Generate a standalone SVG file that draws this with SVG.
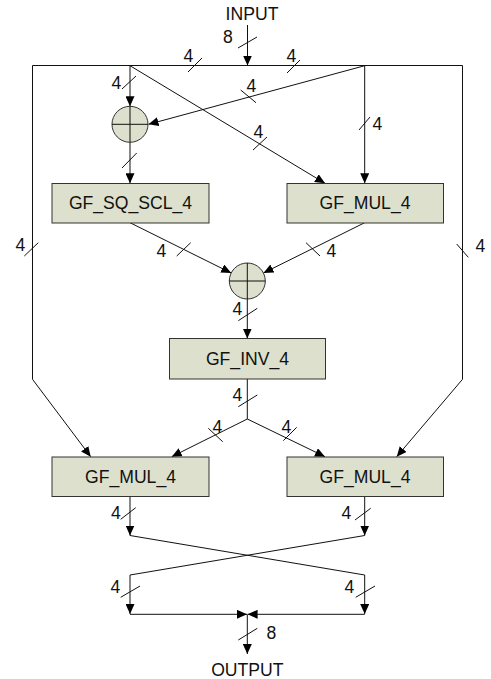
<svg xmlns="http://www.w3.org/2000/svg" width="491" height="679" viewBox="0 0 491 679">
<style>
text{font-family:"Liberation Sans",Arial,sans-serif;font-size:17.6px;fill:#111}
.c{text-anchor:middle}
.box{fill:#dce0cc;stroke:#333;stroke-width:1}
.w{fill:none;stroke:#111;stroke-width:1}
.a{marker-end:url(#ah)}
.s{stroke:#111;stroke-width:1}
</style>
<defs>
<marker id="ah" markerUnits="userSpaceOnUse" markerWidth="10" markerHeight="9" refX="10" refY="4.5" orient="auto">
<path d="M0,0 L10,4.5 L0,9 Z" fill="#000"/>
</marker>
</defs>
<rect width="491" height="679" fill="#fff"/>
<g id="connectors">
<line class="w a" x1="247.5" y1="25" x2="247.5" y2="65.5"/>
<line class="w" x1="32.5" y1="65.5" x2="462.5" y2="65.5"/>
<polyline class="w a" points="32.5,65.5 32.5,379.3 90.7,456.7"/>
<polyline class="w a" points="462.5,65.5 462.5,379.3 396.7,456.7"/>
<line class="w a" x1="130" y1="65.5" x2="130" y2="106.3"/>
<line class="w a" x1="130" y1="65.7" x2="325" y2="183.3"/>
<line class="w a" x1="364.7" y1="65.5" x2="364.7" y2="183.3"/>
<line class="w a" x1="364.7" y1="65.7" x2="148.5" y2="124.3"/>
<line class="w a" x1="130" y1="142.3" x2="130" y2="183.3"/>
<line class="w a" x1="130" y1="222.7" x2="231.2" y2="273"/>
<line class="w a" x1="364.7" y1="222.7" x2="263.4" y2="273"/>
<line class="w a" x1="247.3" y1="299" x2="247.3" y2="338.5"/>
<line class="w" x1="247.3" y1="379" x2="247.3" y2="419"/>
<line class="w a" x1="247.3" y1="419" x2="171.7" y2="456.7"/>
<line class="w a" x1="247.3" y1="419" x2="325" y2="456.7"/>
<line class="w a" x1="130" y1="496.7" x2="130" y2="535.5"/>
<line class="w a" x1="364.7" y1="496.7" x2="364.7" y2="535.5"/>
<polyline class="w a" points="130,535.5 364.7,575 364.7,614"/>
<polyline class="w a" points="364.7,535.5 130,575 130,614"/>
<line class="w a" x1="130" y1="614.3" x2="247" y2="614.3"/>
<line class="w a" x1="364.7" y1="614.3" x2="247.6" y2="614.3"/>
<line class="w a" x1="247.3" y1="614.3" x2="247.3" y2="654"/>
<!-- bus width slashes -->
<line class="s" x1="238" y1="48" x2="257" y2="37"/>
<line class="s" x1="188" y1="72" x2="202" y2="58"/>
<line class="s" x1="287" y1="73" x2="300" y2="60"/>
<line class="s" x1="122" y1="89" x2="136" y2="76"/>
<line class="s" x1="253" y1="150" x2="267" y2="137"/>
<line class="s" x1="359" y1="130" x2="370" y2="117"/>
<line class="s" x1="240.7" y1="90" x2="256" y2="102.7"/>
<line class="s" x1="122" y1="168" x2="136.7" y2="153"/>
<line class="s" x1="176.7" y1="256" x2="190.7" y2="242.7"/>
<line class="s" x1="306" y1="242.7" x2="320" y2="256"/>
<line class="s" x1="24.3" y1="256" x2="38.3" y2="242.7"/>
<line class="s" x1="456.7" y1="244" x2="468.3" y2="257.3"/>
<line class="s" x1="238.3" y1="320.7" x2="257.3" y2="308.3"/>
<line class="s" x1="238.3" y1="406.7" x2="257.3" y2="395"/>
<line class="s" x1="208.3" y1="428.3" x2="222.7" y2="441.7"/>
<line class="s" x1="283.3" y1="440.7" x2="296.7" y2="427.3"/>
<line class="s" x1="120.7" y1="519.3" x2="135.7" y2="507.7"/>
<line class="s" x1="355" y1="520" x2="370.7" y2="508.3"/>
<line class="s" x1="120.7" y1="597.3" x2="140" y2="586"/>
<line class="s" x1="355.7" y1="597.3" x2="375" y2="586"/>
<line class="s" x1="238.3" y1="640" x2="257.3" y2="628.3"/>
<!-- labels -->
<text x="223" y="43">8</text>
<text x="183.5" y="62">4</text>
<text x="286.5" y="62">4</text>
<text x="111.5" y="89">4</text>
<text x="253.5" y="138">4</text>
<text x="372.5" y="130">4</text>
<text x="246.5" y="91.5">4</text>
<text x="156.5" y="257">4</text>
<text x="326.5" y="257">4</text>
<text x="15.5" y="251">4</text>
<text x="475.5" y="252">4</text>
<text x="232.5" y="315">4</text>
<text x="232.5" y="401">4</text>
<text x="212.5" y="433">4</text>
<text x="281.5" y="433">4</text>
<text x="111" y="519">4</text>
<text x="341.5" y="519">4</text>
<text x="110.5" y="592.7">4</text>
<text x="344.5" y="592.7">4</text>
<text x="266.5" y="639">8</text>
</g>
<g id="input"><text class="c" x="252" y="20">INPUT</text></g>
<g id="output"><text class="c" x="247.3" y="676">OUTPUT</text></g>
<g id="xor1">
<circle class="box" cx="130" cy="124.3" r="18"/>
<line class="s" x1="112" y1="124.3" x2="148" y2="124.3"/>
<line class="s" x1="130" y1="106.3" x2="130" y2="142.3"/>
</g>
<g id="xor2">
<circle class="box" cx="247.3" cy="281" r="18"/>
<line class="s" x1="229.3" y1="281" x2="265.3" y2="281"/>
<line class="s" x1="247.3" y1="263" x2="247.3" y2="299"/>
</g>
<g id="gf_sq_scl_4">
<rect class="box" x="52" y="183.5" width="157" height="39.5"/>
<text class="c" x="130.5" y="209">GF_SQ_SCL_4</text>
</g>
<g id="gf_mul_4_top">
<rect class="box" x="287" y="183.5" width="156.5" height="39.5"/>
<text class="c" x="365" y="209">GF_MUL_4</text>
</g>
<g id="gf_inv_4">
<rect class="box" x="169.5" y="338.5" width="156" height="40.5"/>
<text class="c" x="247.5" y="365">GF_INV_4</text>
</g>
<g id="gf_mul_4_left">
<rect class="box" x="52" y="457" width="157" height="39.5"/>
<text class="c" x="130.5" y="483">GF_MUL_4</text>
</g>
<g id="gf_mul_4_right">
<rect class="box" x="287" y="457" width="156.5" height="39.5"/>
<text class="c" x="365" y="483">GF_MUL_4</text>
</g>
</svg>
